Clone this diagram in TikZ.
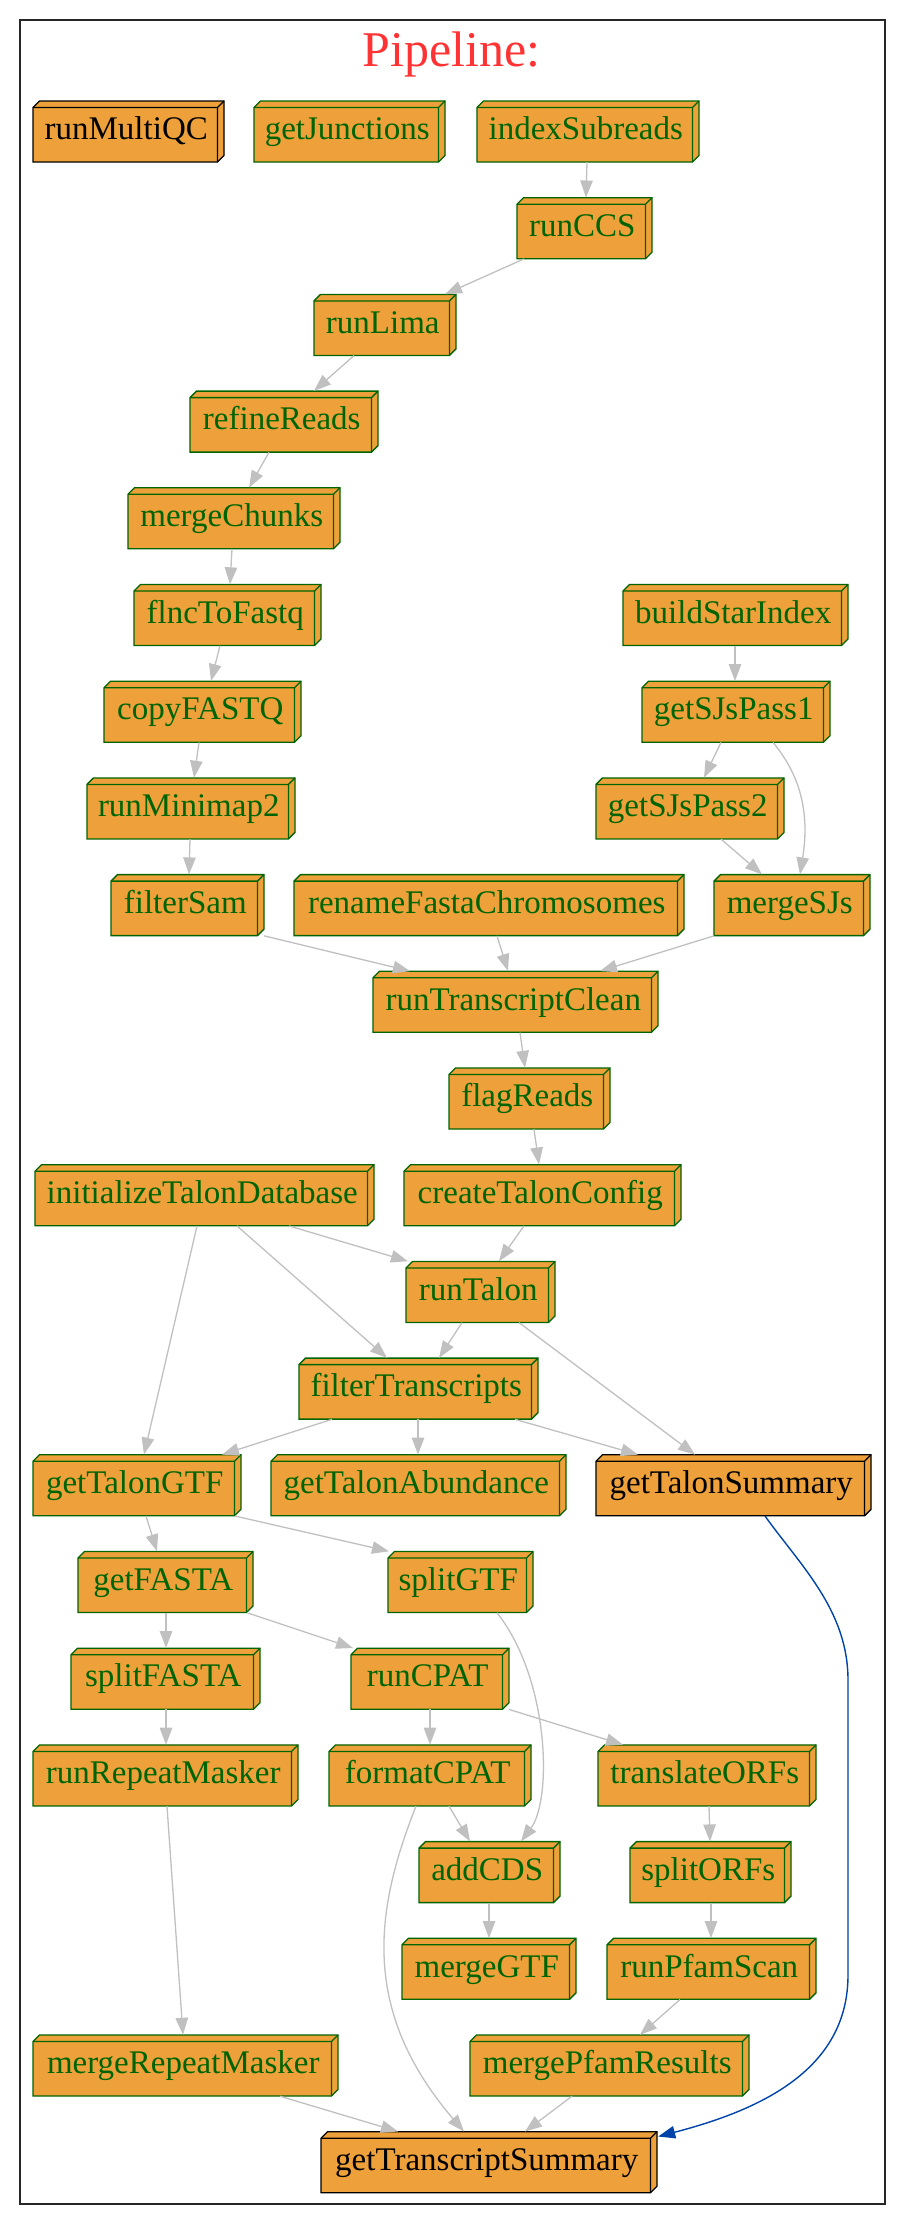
\documentclass[tikz,border=0pt]{standalone}
\usepackage{fontspec}
\setmainfont{Liberation Serif}
\usetikzlibrary{arrows.meta,calc}
\definecolor{boxfill}{RGB}{238,161,58}
\definecolor{dgreen}{RGB}{0,100,0}
\definecolor{egray}{RGB}{192,192,192}
\definecolor{eblue}{RGB}{0,68,170}
\definecolor{tred}{RGB}{255,51,51}
\newcommand\bxnode[6]{%
  \pgfmathsetmacro\bxT{101+96.7*#4}%
  \pgfmathsetmacro\bxB{\bxT+61}%
  \pgfmathsetmacro\bxTd{\bxT+6.5}%
  \pgfmathsetmacro\bxBd{\bxB-6.5}%
  \pgfmathsetmacro\bxXa{#2+6.5}%
  \pgfmathsetmacro\bxXb{#3-6.5}%
  \filldraw[fill=boxfill, draw=#5, line width=1.3pt, line join=miter]
    (#2,\bxTd) -- (\bxXa,\bxT) -- (#3,\bxT) -- (#3,\bxBd) -- (\bxXb,\bxB) -- (#2,\bxB) -- cycle;
  \draw[#5, line width=1.3pt] (#2,\bxTd) -- (\bxXb,\bxTd) -- (\bxXb,\bxB) (\bxXb,\bxTd) -- (#3,\bxT);
  \node[inner sep=0pt, minimum width={#3-#2}, minimum height=61pt] (#1) at ({(#2+#3)/2},{\bxT+30.5}) {};
  \node[boxtext, text=#5] (#1-t) at ({(#2+\bxXb)/2+1},{(\bxTd+\bxB)/2}) {#6};
}
\newcommand\conn[4]{\draw[conn] (#1.south -| #2,0) -- (#3.north -| #4,0);}
\begin{document}
\begin{tikzpicture}[x=1pt,y=-1pt,
  boxtext/.style={inner sep=0pt, font=\fontsize{33}{36}\selectfont, text height=22pt, text depth=12pt},
  conn/.style={draw=egray, line width=1.3pt, -{Triangle[length=17pt,width=12.5pt]}},
  bconn/.style={draw=eblue, line width=1.4pt, -{Triangle[length=17pt,width=12.5pt]}}]
\useasboundingbox (0,0) rectangle (900,2225);
\draw[line width=1.5pt, black!85] (20,20) rectangle (885,2204);
\node[anchor=base, text=tred, font=\fontsize{50}{56}\selectfont, inner sep=0pt] (title) at (451.5,66.7) {Pipeline:};

% nodes
\bxnode{runMultiQC}{33}{224}{0}{black}{runMultiQC}
\bxnode{getJunctions}{254}{445}{0}{dgreen}{getJunctions}
\bxnode{indexSubreads}{477}{699}{0}{dgreen}{indexSubreads}
\bxnode{runCCS}{517}{652}{1}{dgreen}{runCCS}
\bxnode{runLima}{314}{456}{2}{dgreen}{runLima}
\bxnode{refineReads}{190}{378}{3}{dgreen}{refineReads}
\bxnode{mergeChunks}{128}{340}{4}{dgreen}{mergeChunks}
\bxnode{flncToFastq}{134}{321}{5}{dgreen}{flncToFastq}
\bxnode{buildStarIndex}{623}{848}{5}{dgreen}{buildStarIndex}
\bxnode{copyFASTQ}{104}{301}{6}{dgreen}{copyFASTQ}
\bxnode{getSJsPass1}{642}{830}{6}{dgreen}{getSJsPass1}
\bxnode{runMinimap2}{87}{295}{7}{dgreen}{runMinimap2}
\bxnode{getSJsPass2}{596}{784}{7}{dgreen}{getSJsPass2}
\bxnode{filterSam}{111}{264}{8}{dgreen}{filterSam}
\bxnode{renameFastaChromosomes}{294}{684}{8}{dgreen}{renameFastaChromosomes}
\bxnode{mergeSJs}{714}{870}{8}{dgreen}{mergeSJs}
\bxnode{runTranscriptClean}{373}{658}{9}{dgreen}{runTranscriptClean}
\bxnode{flagReads}{449}{610}{10}{dgreen}{flagReads}
\bxnode{initializeTalonDatabase}{35}{374}{11}{dgreen}{initializeTalonDatabase}
\bxnode{createTalonConfig}{404}{681}{11}{dgreen}{createTalonConfig}
\bxnode{runTalon}{406}{555}{12}{dgreen}{runTalon}
\bxnode{filterTranscripts}{299}{538}{13}{dgreen}{filterTranscripts}
\bxnode{getTalonGTF}{33}{241}{14}{dgreen}{getTalonGTF}
\bxnode{getTalonAbundance}{271}{566}{14}{dgreen}{getTalonAbundance}
\bxnode{getTalonSummary}{596}{871}{14}{black}{getTalonSummary}
\bxnode{getFASTA}{78}{253}{15}{dgreen}{getFASTA}
\bxnode{splitGTF}{388}{533}{15}{dgreen}{splitGTF}
\bxnode{splitFASTA}{71}{260}{16}{dgreen}{splitFASTA}
\bxnode{runCPAT}{351}{509}{16}{dgreen}{runCPAT}
\bxnode{runRepeatMasker}{33}{298}{17}{dgreen}{runRepeatMasker}
\bxnode{formatCPAT}{329}{531}{17}{dgreen}{formatCPAT}
\bxnode{translateORFs}{598}{816}{17}{dgreen}{translateORFs}
\bxnode{addCDS}{419}{560}{18}{dgreen}{addCDS}
\bxnode{splitORFs}{630}{791}{18}{dgreen}{splitORFs}
\bxnode{mergeGTF}{402}{576}{19}{dgreen}{mergeGTF}
\bxnode{runPfamScan}{607}{816}{19}{dgreen}{runPfamScan}
\bxnode{mergeRepeatMasker}{33}{338}{20}{dgreen}{mergeRepeatMasker}
\bxnode{mergePfamResults}{470}{749}{20}{dgreen}{mergePfamResults}
\bxnode{getTranscriptSummary}{321}{657}{21}{black}{getTranscriptSummary}

% straight connectors
\conn{indexSubreads}{587}{runCCS}{586}
\conn{runCCS}{524}{runLima}{445}
\conn{runLima}{354}{refineReads}{314}
\conn{refineReads}{269}{mergeChunks}{249}
\conn{mergeChunks}{232}{flncToFastq}{230}
\conn{flncToFastq}{220}{copyFASTQ}{211}
\conn{copyFASTQ}{199}{runMinimap2}{194}
\conn{buildStarIndex}{735}{getSJsPass1}{735}
\conn{getSJsPass1}{721}{getSJsPass2}{704}
\conn{getSJsPass2}{721}{mergeSJs}{762}
\conn{runMinimap2}{190}{filterSam}{189}
\conn{filterSam}{264}{runTranscriptClean}{410}
\conn{renameFastaChromosomes}{497}{runTranscriptClean}{508}
\conn{mergeSJs}{714}{runTranscriptClean}{600}
\conn{runTranscriptClean}{520}{flagReads}{525}
\conn{flagReads}{534}{createTalonConfig}{539}
\conn{initializeTalonDatabase}{289}{runTalon}{408}
\conn{createTalonConfig}{524}{runTalon}{499}
\conn{initializeTalonDatabase}{237}{filterTranscripts}{387}
\conn{initializeTalonDatabase}{197}{getTalonGTF}{144}
\conn{runTalon}{462}{filterTranscripts}{439}
\conn{runTalon}{519}{getTalonSummary}{695}
\conn{filterTranscripts}{332}{getTalonGTF}{222}
\conn{filterTranscripts}{418}{getTalonAbundance}{418}
\conn{filterTranscripts}{515}{getTalonSummary}{638}
\conn{getTalonGTF}{146}{getFASTA}{157}
\conn{getTalonGTF}{235}{splitGTF}{389}
\conn{getFASTA}{166}{splitFASTA}{166}
\conn{getFASTA}{247}{runCPAT}{353}
\conn{splitFASTA}{166}{runRepeatMasker}{166}
\conn{runCPAT}{430}{formatCPAT}{430}
\conn{runCPAT}{509}{translateORFs}{623}
\conn{formatCPAT}{449}{addCDS}{470}
\conn{translateORFs}{709}{splitORFs}{710}
\conn{runRepeatMasker}{167}{mergeRepeatMasker}{183}
\conn{addCDS}{489}{mergeGTF}{489}
\conn{splitORFs}{711}{runPfamScan}{711}
\conn{runPfamScan}{680}{mergePfamResults}{640}
\conn{mergeRepeatMasker}{280}{getTranscriptSummary}{398}
\conn{mergePfamResults}{572}{getTranscriptSummary}{525}

% curved connectors
\draw[conn] (getSJsPass1.south -| 773,0) .. controls (800,775) and (810,812) .. (mergeSJs.north -| 800,0);
\draw[conn] (splitGTF.south -| 497,0) .. controls (550,1680) and (552,1800) .. (addCDS.north -| 521,0);
\draw[conn] (formatCPAT.south -| 416,0) .. controls (375,1910) and (360,2010) .. (getTranscriptSummary.north -| 464,0);
\draw[bconn] (getTalonSummary.south -| 765,0) .. controls (800,1565) and (848,1610) .. (848,1680)
  -- (848,1975) .. controls (848,2070) and (760,2110) .. ($(getTranscriptSummary.north east)+(1,5)$);
\end{tikzpicture}
\end{document}
